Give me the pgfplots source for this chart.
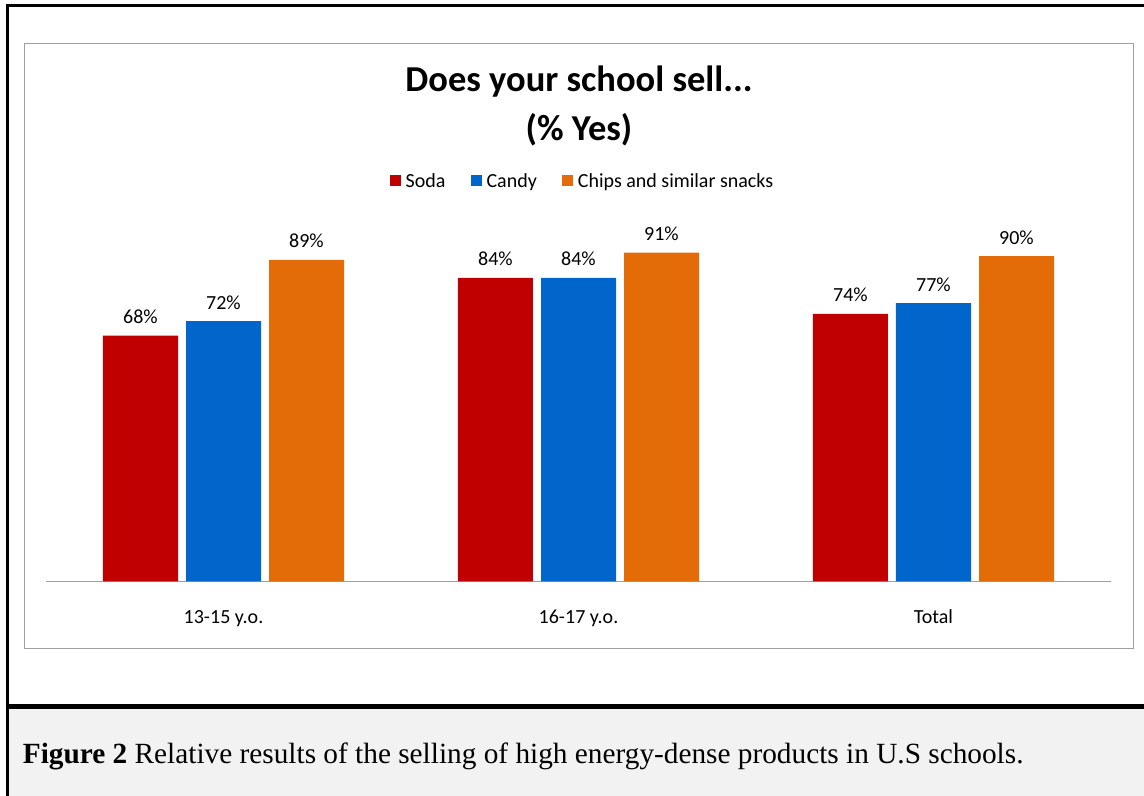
\documentclass[border=0pt]{standalone}
\usepackage{fontspec}
\setmainfont{Carlito}
\newfontfamily\timesfont{Liberation Serif}
\usepackage{pgfplots}
\pgfplotsset{compat=1.18}
\definecolor{soda}{HTML}{C00000}
\definecolor{candy}{HTML}{0066CC}
\definecolor{chips}{HTML}{E36C09}
\definecolor{framegray}{HTML}{A0A0A0}
\definecolor{capbg}{HTML}{F2F2F2}
\pgfplotsset{sq legend/.style={legend image code/.code={\fill[##1,draw=none] (0bp,-5.5bp) rectangle (11bp,5.5bp);}}}
\begin{document}
\begin{tikzpicture}[x=1bp,y=1bp]
\path[use as bounding box] (0,0) rectangle (1144,796);
\fill[capbg] (8.7,0) rectangle (1144,796-709);
\draw[line width=5bp] (5.8,796-706.5) -- (1144,796-706.5);
\draw[line width=3bp] (5.8,796-5.5) -- (1144,796-5.5);
\draw[line width=3bp] (7.3,796-4) -- (7.3,0);
\draw[framegray, line width=1.3bp] (24.3,796-43.3) rectangle (1133.3,796-648.7);
\node[font=\fontsize{36.5bp}{42bp}\selectfont\bfseries, anchor=base, inner sep=0pt] at (579,796-92) {Does your school sell...};
\node[font=\fontsize{36.5bp}{42bp}\selectfont\bfseries, anchor=base, inner sep=0pt] at (579,796-141) {(\% Yes)};
\node[font=\timesfont\fontsize{29.3bp}{34bp}\selectfont, anchor=base west, inner sep=0pt] at (22.7,796-764) {\textbf{Figure 2} Relative results of the selling of high energy-dense products in U.S schools.};
\begin{axis}[
  at={(46bp,214.5bp)}, anchor=south west,
  scale only axis, width=1065bp, height=361.5bp,
  xmin=-0.5, xmax=2.5, ymin=0, ymax=100,
  ybar=8bp, bar width=75bp,
  axis x line=bottom, axis y line=none,
  x axis line style={-, draw=framegray, line width=1.3bp},
  xtick={0,1,2}, xticklabels={13-15 y.o., 16-17 y.o., Total},
  major tick length=0pt, ytick=\empty,
  xticklabel style={font=\fontsize{20bp}{24bp}\selectfont, anchor=base, yshift=-41.8bp},
  /pgf/number format/assume math mode=true,
  nodes near coords={\pgfmathprintnumber{\pgfplotspointmeta}\%},
  every node near coord/.append style={font=\fontsize{20bp}{24bp}\selectfont, anchor=base, yshift=12bp, inner sep=0pt, text=black},
  clip=false,
  legend style={at={(0.5028,1.108)}, anchor=center, draw=none, fill=none,
    legend columns=3, font=\fontsize{20bp}{24bp}\selectfont,
    nodes={inner sep=0pt},
    /tikz/every odd column/.append style={column sep=5bp},
    /tikz/every even column/.append style={column sep=25bp}},
  legend cell align=left,
]
\addplot[fill=soda, draw=none, sq legend] coordinates {(0,68) (1,84) (2,74)};
\addplot[fill=candy, draw=none, sq legend] coordinates {(0,72) (1,84) (2,77)};
\addplot[fill=chips, draw=none, sq legend] coordinates {(0,89) (1,91) (2,90)};
\legend{Soda, Candy, Chips and similar snacks}
\end{axis}
\end{tikzpicture}
\end{document}
